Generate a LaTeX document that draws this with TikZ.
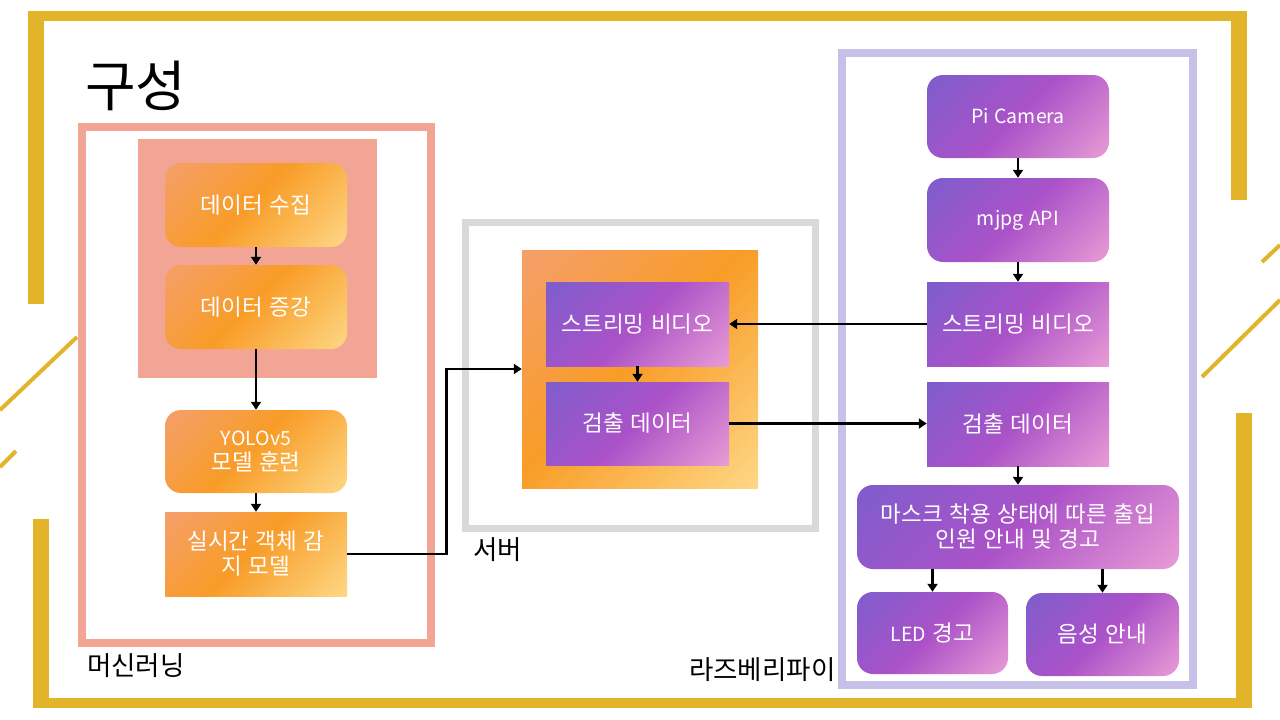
\documentclass[tikz,border=0pt]{standalone}
\usepackage{fontspec}
\setmainfont[WordSpace=1.3]{Noto Sans CJK KR}
\usetikzlibrary{arrows.meta,calc}
\definecolor{gold}{HTML}{E1B429}
\definecolor{pinkf}{HTML}{F2A595}
\definecolor{grayf}{HTML}{D9D9D9}
\definecolor{lavf}{HTML}{C7C1E9}
\definecolor{purpA}{HTML}{765FCD}
\definecolor{purpB}{HTML}{AB52C8}
\definecolor{purpC}{HTML}{F4AAD8}
\definecolor{orA}{HTML}{F4A07A}
\definecolor{orB}{HTML}{F89C27}
\definecolor{orC}{HTML}{FFE296}
\pgfdeclarehorizontalshading{purpsh}{100bp}{color(0bp)=(purpA); color(8bp)=(purpA); color(50bp)=(purpB); color(92bp)=(purpC); color(100bp)=(purpC)}
\pgfdeclarehorizontalshading{orsh}{100bp}{color(0bp)=(orA); color(8bp)=(orA); color(48bp)=(orB); color(92bp)=(orC); color(100bp)=(orC)}
\newcommand\latn[1]{{\fontsize{19.5}{25}\selectfont #1}}
\begin{document}
\begin{tikzpicture}[x=1pt,y=-1pt,
  boxtext/.style={text=white, font=\fontsize{22.5}{25}\selectfont, align=center, inner sep=0pt},
  pbox/.style={boxtext, shading=purpsh, shading angle=-45},
  obox/.style={boxtext, shading=orsh, shading angle=-45},
  rnd/.style={rounded corners=16pt},
  conn/.style={line width=2.7pt, -{Triangle[length=8pt,width=10pt]}},
  lbl/.style={font=\fontsize{26.5}{30}\selectfont, inner sep=0pt, anchor=west},
  goldbar/.style={fill=gold, draw=none},
  goldline/.style={draw=gold, line width=4pt}]
\useasboundingbox (0,0) rectangle (1280,720);
\fill[white] (0,0) rectangle (1280,720);
% gold decoration
\path[goldbar] (28,11) rectangle (44,304);
\path[goldbar] (28,11) rectangle (1247,21);
\path[goldbar] (1231,11) rectangle (1247,200);
\path[goldbar] (33,519) rectangle (49,708);
\path[goldbar] (33,698) rectangle (1252,708);
\path[goldbar] (1236,413) rectangle (1252,708);
\draw[goldline] (0,410) -- (77,337);
\draw[goldline] (0,467) -- (16,451);
\draw[goldline] (1202,377) -- (1280,300);
\draw[goldline] (1262,262) -- (1280,245);
% title
\node[font=\fontsize{55}{60}\selectfont, inner sep=0pt, anchor=west] (title) at (85,86) {구성};
% machine learning frame
\draw[pinkf, line width=8pt] (82,127) rectangle (431,643);
\fill[pinkf] (138,139) rectangle (377,378);
\node[obox, rnd, minimum width=182pt, minimum height=84pt] (d1) at (256,205) {데이터 수집};
\node[obox, rnd, minimum width=182pt, minimum height=84pt] (d2) at (256,307) {데이터 증강};
\node[obox, rnd, minimum width=182pt, minimum height=83pt] (y5) at (256,451.5) {\latn{YOLOv5}\\모델 훈련};
\node[obox, minimum width=182pt, minimum height=84pt] (rt) at (256,554) {실시간 객체 감\\지 모델};
\node[lbl] (ml) at (87,666) {머신러닝};
% server frame
\draw[grayf, line width=7pt] (465,222) rectangle (815,528);
\node[obox, minimum width=236pt, minimum height=238pt] (os) at (640,369) {};
\node[pbox, minimum width=183pt, minimum height=84pt] (sv1) at (637.5,324) {스트리밍 비디오};
\node[pbox, minimum width=183pt, minimum height=83pt] (sv2) at (637.5,423.5) {검출 데이터};
\node[lbl] (srv) at (473,550) {서버};
% raspberry pi frame
\draw[lavf, line width=8pt] (842,53) rectangle (1193,685);
\node[pbox, rnd, minimum width=182pt, minimum height=83pt] (pc) at (1018,116.5) {\latn{Pi Camera}};
\node[pbox, rnd, minimum width=182pt, minimum height=84pt] (mj) at (1018,220) {\latn{mjpg API}};
\node[pbox, minimum width=182pt, minimum height=84pt] (rs) at (1018,324) {스트리밍 비디오};
\node[pbox, minimum width=182pt, minimum height=84pt] (rd) at (1018,424) {검출 데이터};
\node[pbox, rnd, minimum width=322pt, minimum height=84pt] (mk) at (1018,527) {마스크 착용 상태에 따른 출입\\인원 안내 및 경고};
\node[pbox, rnd, minimum width=151pt, minimum height=82pt] (led) at (932.5,633) {\latn{LED} 경고};
\node[pbox, rnd, minimum width=153pt, minimum height=83pt] (voice) at (1102.5,634.5) {음성 안내};
\node[lbl] (rpi) at (689,670) {라즈베리파이};
% connectors
\draw[conn] (d1) -- (d2);
\draw[conn] (d2) -- (y5);
\draw[conn] (y5) -- (rt);
\draw[conn] (rt.east) -- ++(99,0) |- (os.west);
\draw[conn] (sv1) -- (sv2);
\draw[conn] (rs.west) -- (sv1.east);
\draw[conn] (sv2.east) -- (rd.west |- sv2.east);
\draw[conn] (pc) -- (mj);
\draw[conn] (mj) -- (rs);
\draw[conn] (rd) -- (mk);
\draw[conn] (led.north |- mk.south) -- (led.north);
\draw[conn] (voice.north |- mk.south) -- (voice.north);
\end{tikzpicture}
\end{document}
